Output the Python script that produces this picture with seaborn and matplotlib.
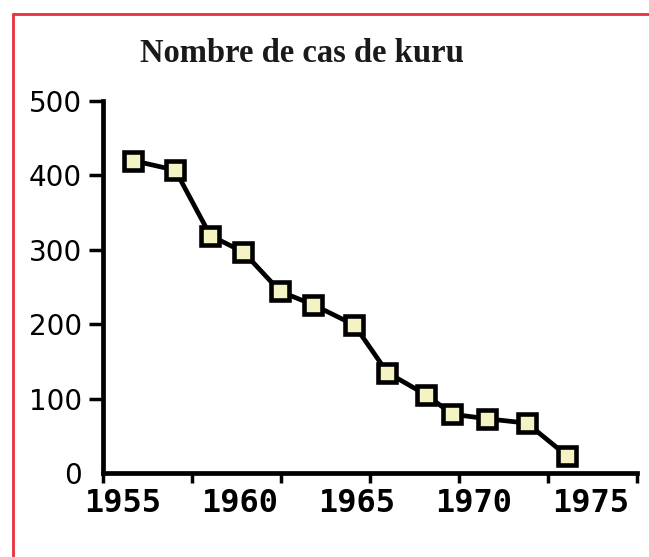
import matplotlib
matplotlib.use("Agg")
import matplotlib.pyplot as plt
from matplotlib.lines import Line2D
import numpy as np
import seaborn as sns

# data
years = [1955.44, 1957.26, 1958.76, 1960.17, 1961.74, 1963.16, 1964.91,
         1966.32, 1967.98, 1969.10, 1970.56, 1972.29, 1974.00]
cases = [420, 407, 319, 297, 244, 226, 199, 135, 105, 79, 73, 67, 23]

x_labels = [1955, 1960, 1965, 1970, 1975]
y_labels = [0, 100, 200, 300, 400, 500]
title = "Nombre de cas de kuru"

sns.set_style("white")
plt.rcParams["font.family"] = ["DejaVu Sans"]

fig = plt.figure(figsize=(6.49, 5.57), dpi=100)
ax = fig.add_axes([0.1587, 0.1508, 0.8228, 0.6679])

sns.lineplot(x=years, y=cases, ax=ax, color="black", linewidth=3.4,
             marker="s", markersize=13.5, markerfacecolor="#f5f2c4",
             markeredgecolor="black", markeredgewidth=3.3, sort=False)

ax.set_xlim(1954.17, 1976.99)
ax.set_ylim(0, 500)

for side in ["top", "right"]:
    ax.spines[side].set_visible(False)
for side in ["left", "bottom"]:
    ax.spines[side].set_linewidth(3.4)
    ax.spines[side].set_color("black")

# year labels (no marks), tick marks placed separately as in the original
ax.set_xticks(x_labels)
ax.set_xticklabels([str(v) for v in x_labels], family="DejaVu Sans Mono",
                   weight="bold", fontsize=23)
ax.tick_params(axis="x", which="major", length=0, pad=11, labelcolor="black")
ax.set_xticks(np.linspace(1954.17, 1976.99, 7), minor=True)
ax.tick_params(axis="x", which="minor", length=7.5, width=2.5,
               direction="out", color="black", bottom=True)

ax.set_yticks(y_labels)
ax.set_yticklabels([str(v) for v in y_labels], fontsize=20)
ax.tick_params(axis="y", which="major", length=10, width=2.5,
               direction="out", color="black", pad=5, left=True,
               labelcolor="black")
ax.yaxis.get_major_ticks()[0].tick1line.set_visible(False)

ax.set_xlabel("")
ax.set_ylabel("")

fig.text(302 / 649, 1 - 62 / 557, title, ha="center", va="baseline",
         family="Liberation Serif", weight="bold", fontsize=23.5,
         color="#1a1a1a")

# red frame at top and left
red = "#e8303a"
fig.add_artist(Line2D([13 / 649, 1.0], [1 - 14 / 557, 1 - 14 / 557],
                      transform=fig.transFigure, color=red, linewidth=2))
fig.add_artist(Line2D([13 / 649, 13 / 649], [0.0, 1 - 14 / 557],
                      transform=fig.transFigure, color=red, linewidth=2))

fig.savefig("out.png", dpi=100)
